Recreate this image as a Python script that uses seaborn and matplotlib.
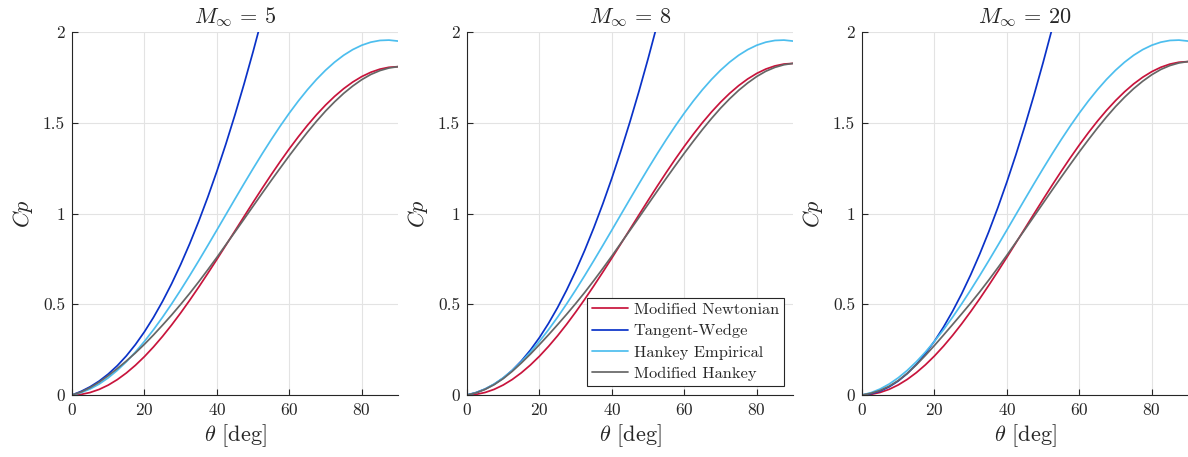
import numpy as np
import pandas as pd
import matplotlib
matplotlib.use("Agg")
import matplotlib.pyplot as plt
import seaborn as sns

# ---------------- data ----------------
theta = [0, 2.5, 5, 7.5, 10, 12.5, 15, 17.5, 20, 22.5, 25, 27.5, 30, 32.5, 35, 37.5, 40, 42.5,
         45, 47.5, 50, 52.5, 55, 57.5, 60, 62.5, 65, 67.5, 70, 72.5, 75, 77.5, 80, 82.5, 85, 87.5, 90]
mach_numbers = [5, 8, 20]
methods = ["Modified Newtonian", "Tangent-Wedge", "Hankey Empirical", "Modified Hankey"]

newtonian_m5 = [0, 0.0034, 0.0137, 0.0308, 0.0545, 0.0847, 0.1212, 0.1636, 0.2116, 0.2649,
                0.3231, 0.3857, 0.4523, 0.5222, 0.5951, 0.6704, 0.7474, 0.8257, 0.9045, 0.9833,
                1.0616, 1.1386, 1.2139, 1.2868, 1.3568, 1.4233, 1.4859, 1.5441, 1.5974, 1.6454,
                1.6878, 1.7243, 1.7545, 1.7782, 1.7953, 1.8056, 1.809]
newtonian_m8 = [0, 0.0035, 0.0139, 0.0311, 0.0551, 0.0856, 0.1224, 0.1652, 0.2137, 0.2676,
                0.3263, 0.3895, 0.4568, 0.5274, 0.6011, 0.6771, 0.7549, 0.8339, 0.9135, 0.9931,
                1.0721, 1.1499, 1.2259, 1.2996, 1.3703, 1.4375, 1.5007, 1.5594, 1.6133, 1.6618,
                1.7046, 1.7414, 1.7719, 1.7959, 1.8131, 1.8235, 1.827]
newtonian_m20 = [0, 0.0035, 0.0140, 0.0313, 0.0554, 0.0861, 0.1231, 0.1661, 0.2149, 0.2690,
                 0.3281, 0.3917, 0.4593, 0.5303, 0.6044, 0.6808, 0.7590, 0.8385, 0.9185, 0.9986,
                 1.0780, 1.1562, 1.2326, 1.3067, 1.3778, 1.4453, 1.5089, 1.5680, 1.6221, 1.6709,
                 1.7140, 1.7509, 1.7816, 1.8057, 1.8231, 1.8335, 1.837]

wedge_theta = [0, 2.5, 5, 7.5, 10, 12.5, 15, 17.5, 20, 22.5, 25, 27.5, 30, 32.5, 35, 37.5,
               40, 42.5, 45, 47.5, 50, 52.5]
wedge_m5 = [0, 0.0199, 0.0452, 0.0768, 0.1154, 0.1614, 0.2154, 0.2777, 0.3484, 0.4278, 0.5160,
            0.6130, 0.7190, 0.8339, 0.9579, 1.0909, 1.2330, 1.3841, 1.5444, 1.7137, 1.8921, 2.0796]
wedge_m8 = [0, 0.0134, 0.0328, 0.0592, 0.0935, 0.1361, 0.1874, 0.2475, 0.3165, 0.3945, 0.4816,
            0.5778, 0.6830, 0.7974, 0.9209, 1.0535, 1.1952, 1.3461, 1.5060, 1.6751, 1.8534, 2.0408]
wedge_m20 = [0, 0.0072, 0.0218, 0.0449, 0.0771, 0.1183, 0.1686, 0.2280, 0.2965, 0.3742, 0.4611,
             0.5570, 0.6621, 0.7764, 0.8997, 1.0322, 1.1739, 1.3247, 1.4846, 1.6537, 1.8319, 2.0192]

hankey = [0, 0.0129, 0.0331, 0.0604, 0.0947, 0.1357, 0.1831, 0.2366, 0.2956, 0.3598, 0.4287,
          0.5018, 0.5784, 0.6581, 0.7402, 0.8241, 0.9091, 0.9946, 1.0800, 1.1646, 1.2477,
          1.3288, 1.4071, 1.4822, 1.5534, 1.6202, 1.6821, 1.7387, 1.7894, 1.8339, 1.8719,
          1.9030, 1.9271, 1.9440, 1.9534, 1.9554, 1.9500]

mod_hankey_m5 = [0, 0.0164, 0.0407, 0.0708, 0.1065, 0.1457, 0.1872, 0.2316, 0.2796, 0.3309,
                 0.3851, 0.4407, 0.4993, 0.5602, 0.6241, 0.6904, 0.7584, 0.8287, 0.8985, 0.9693,
                 1.0406, 1.1116, 1.1819, 1.2508, 1.3188, 1.3843, 1.4479, 1.5081, 1.5644, 1.6154,
                 1.6618, 1.7023, 1.7375, 1.7662, 1.7873, 1.8016, 1.809]
mod_hankey_m8 = [0, 0.0115, 0.0309, 0.0571, 0.0901, 0.1306, 0.1764, 0.2252, 0.2777, 0.3316,
                 0.3873, 0.4445, 0.5038, 0.5654, 0.6301, 0.6971, 0.7659, 0.8369, 0.9075, 0.9791,
                 1.0511, 1.1229, 1.1939, 1.2636, 1.3323, 1.3985, 1.4627, 1.5234, 1.5803, 1.6318,
                 1.6786, 1.7194, 1.7549, 1.7839, 1.8051, 1.8195, 1.827]
mod_hankey_m20 = [0, 0.0095, 0.0250, 0.0483, 0.0794, 0.1191, 0.1661, 0.2181, 0.2729, 0.3300,
                  0.3881, 0.4467, 0.5063, 0.5683, 0.6334, 0.7008, 0.7700, 0.8415, 0.9125, 0.9846,
                  1.0570, 1.1292, 1.2006, 1.2707, 1.3398, 1.4063, 1.4709, 1.5320, 1.5891, 1.6409,
                  1.6880, 1.7289, 1.7646, 1.7937, 1.8151, 1.8295, 1.837]

x_ticks = [0, 20, 40, 60, 80]
y_ticks = [0, 0.5, 1, 1.5, 2]
y_tick_labels = ["0", "0.5", "1", "1.5", "2"]

colors = {"Modified Newtonian": "#C8143C", "Tangent-Wedge": "#0A32C8",
          "Hankey Empirical": "#4DBEEE", "Modified Hankey": "#666666"}

panels = {
    5: (newtonian_m5, wedge_m5, mod_hankey_m5),
    8: (newtonian_m8, wedge_m8, mod_hankey_m8),
    20: (newtonian_m20, wedge_m20, mod_hankey_m20),
}

# ---------------- style ----------------
sns.set_theme(style="whitegrid")
plt.rcParams.update({
    "font.family": "serif",
    "font.serif": ["cmr10", "DejaVu Serif"],
    "mathtext.fontset": "cm",
    "axes.formatter.use_mathtext": True,
    "axes.unicode_minus": False,
    "axes.edgecolor": "#262626",
    "axes.linewidth": 0.8,
    "grid.color": "#e3e3e3",
    "grid.linewidth": 0.8,
    "xtick.direction": "in",
    "ytick.direction": "in",
    "xtick.color": "#262626",
    "ytick.color": "#262626",
})

fig = plt.figure(figsize=(11.88, 4.57), dpi=100)
W, H = 1188, 457
lefts = [72, 467, 862]
width = 326
bottom_px, top_px = 395, 32

for i, m in enumerate(mach_numbers):
    newt, wedge, modh = panels[m]
    frames = [
        pd.DataFrame({"theta": theta, "Cp": newt, "method": methods[0]}),
        pd.DataFrame({"theta": wedge_theta, "Cp": wedge, "method": methods[1]}),
        pd.DataFrame({"theta": theta, "Cp": hankey, "method": methods[2]}),
        pd.DataFrame({"theta": theta, "Cp": modh, "method": methods[3]}),
    ]
    df = pd.concat(frames, ignore_index=True)
    ax = fig.add_axes([lefts[i] / W, (H - bottom_px) / H, width / W, (bottom_px - top_px) / H])
    sns.lineplot(data=df, x="theta", y="Cp", hue="method", hue_order=methods,
                 palette=colors, linewidth=1.25, ax=ax, legend=(i == 1), sort=False)
    ax.set_xlim(0, 90)
    ax.set_ylim(0, 2)
    ax.set_xticks(x_ticks)
    ax.set_yticks(y_ticks)
    ax.set_yticklabels(y_tick_labels)
    ax.tick_params(axis="both", which="both", length=4, width=0.8, labelsize=12.5,
                   pad=5, bottom=True, left=True, top=False, right=False)
    for side in ["top", "right"]:
        ax.spines[side].set_visible(False)
    ax.set_xlabel(r"$\theta$ [deg]", fontsize=16, labelpad=3)
    ax.set_ylabel(r"$Cp$", fontsize=16, labelpad=6)
    ax.set_title(r"$M_\infty\,=\,%d$" % m, fontsize=16, pad=6)
    ax.grid(True)
    if i == 1:
        leg = ax.legend(loc="lower right", fontsize=11.8, frameon=True, fancybox=False,
                        edgecolor="#262626", framealpha=1, handlelength=2.2,
                        borderpad=0.3, labelspacing=0.42, handletextpad=0.35,
                        borderaxespad=0.55)
        leg.get_frame().set_linewidth(0.8)

fig.savefig("out.png", dpi=100)
